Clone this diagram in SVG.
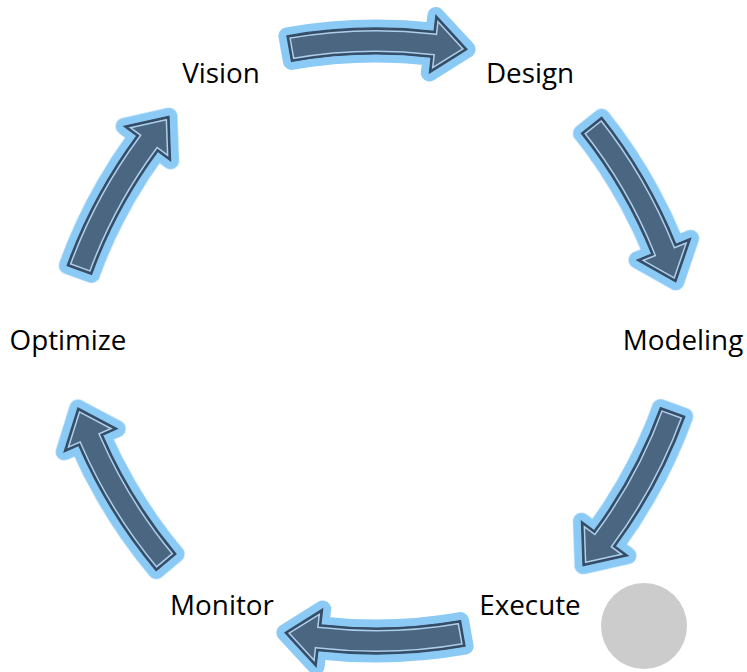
<svg xmlns="http://www.w3.org/2000/svg" xmlns:xlink="http://www.w3.org/1999/xlink" width="747" height="672" viewBox="0 0 747 672">
<style>
.lbl{font-family:"Open Sans","Liberation Sans",sans-serif;font-size:27.8px;fill:#000;text-anchor:middle}
.glow{fill:#8ccaf6;stroke:#8ccaf6;stroke-width:17;stroke-linejoin:round}
.body{fill:#4a6681}
.lite{fill:none;stroke:#aecfec;stroke-width:7}
.dark{fill:none;stroke:#364d67;stroke-width:4}
.edge{fill:none;stroke:#364d67;stroke-width:1.2}
</style>
<defs>
<path id="arrow" d="M-89.1,-305.2 A513,513 0 0 1 58.07,-309.71 L59.89,-325.60 L91.12,-291.63 L53.32,-267.97 L55.13,-283.87 A487,487 0 0 0 -84.57,-279.6 Z"/>
<clipPath id="inside"><use xlink:href="#arrow"/></clipPath>
<filter id="soft" x="-20%" y="-20%" width="140%" height="140%"><feGaussianBlur stdDeviation="0.6"/></filter>
<g id="shape">
<use xlink:href="#arrow" class="glow" filter="url(#soft)"/>
<use xlink:href="#arrow" class="body"/>
<use xlink:href="#arrow" class="lite" clip-path="url(#inside)"/>
<use xlink:href="#arrow" class="dark" clip-path="url(#inside)"/>
<use xlink:href="#arrow" class="edge"/>
</g>
</defs>
<g id="connectors">
<use id="a1" xlink:href="#shape" transform="translate(376,341) rotate(0)"/>
<use id="a2" xlink:href="#shape" transform="translate(376,341) rotate(61.5)"/>
<use id="a3" xlink:href="#shape" transform="translate(376,341) rotate(120)"/>
<use id="a4" xlink:href="#shape" transform="translate(376,341) rotate(180)"/>
<use id="a5" xlink:href="#shape" transform="translate(376,341) rotate(240)"/>
<use id="a6" xlink:href="#shape" transform="translate(376,341) rotate(300)"/>
</g>
<g id="vision"><text class="lbl" x="221" y="83">Vision</text></g>
<g id="design"><text class="lbl" x="530" y="83">Design</text></g>
<g id="modeling"><text class="lbl" x="683" y="350">Modeling</text></g>
<g id="execute"><text class="lbl" x="530" y="615">Execute</text></g>
<g id="monitor"><text class="lbl" x="222" y="615">Monitor</text></g>
<g id="optimize"><text class="lbl" x="68" y="350">Optimize</text></g>
<g id="dot"><circle cx="644" cy="626" r="43" fill="#cccccc"/></g>
</svg>
